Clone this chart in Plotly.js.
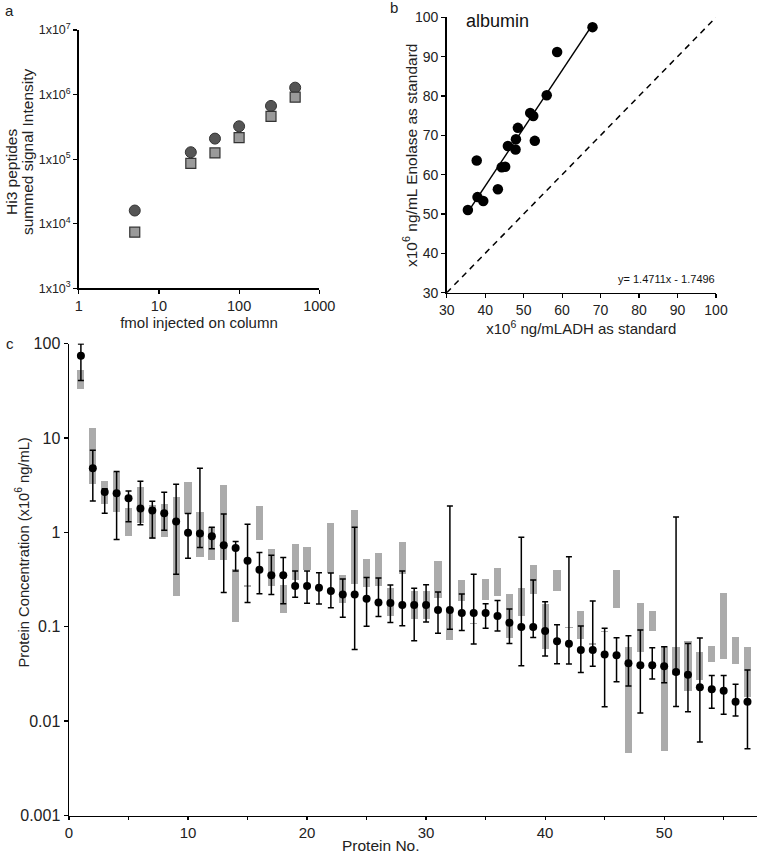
<!DOCTYPE html>
<html>
<head>
<meta charset="utf-8">
<script src="https://cdn.plot.ly/plotly-3.0.1.min.js"></script>
<style>body{margin:0;background:#fff}#chart{width:758px;height:855px}</style>
</head>
<body>
<div id="chart"></div>
<script>
// panel a: Hi3 signal vs amount injected
const fmol = [5, 25, 50, 100, 250, 500];
const hi3Circle = [1.6e4, 1.28e5, 2.08e5, 3.23e5, 6.67e5, 1.28e6];
const hi3Square = [7.4e3, 8.6e4, 1.25e5, 2.15e5, 4.6e5, 9.1e5];

// panel b: albumin, ADH vs enolase standard
const adhStd = [35.5, 38.0, 37.8, 39.5, 43.3, 44.3, 45.2, 45.9, 47.9, 48.0, 48.5, 51.7, 52.5, 52.9, 56.0, 58.7, 67.9];
const enoStd = [51.0, 54.3, 63.6, 53.3, 56.3, 61.9, 62.0, 67.3, 66.4, 69.0, 71.9, 75.7, 74.9, 68.6, 80.2, 91.2, 97.5];
const fitSlope = 1.4711;
const fitIntercept = -1.7496;

// panel c: 57 proteins
const proteinNo = Array.from({length: 57}, (_, i) => i + 1);
const conc = [74, 4.77, 2.68, 2.59, 2.29, 1.79, 1.70, 1.59, 1.30, 0.99,
  0.97, 0.91, 0.73, 0.68, 0.50, 0.40, 0.35, 0.35, 0.27, 0.27,
  0.259, 0.239, 0.22, 0.22, 0.198, 0.18, 0.178, 0.170, 0.170, 0.170,
  0.150, 0.150, 0.140, 0.140, 0.140, 0.130, 0.110, 0.099, 0.099, 0.090,
  0.070, 0.066, 0.0566, 0.0566, 0.0509, 0.0497, 0.0409, 0.039, 0.039, 0.038,
  0.0331, 0.031, 0.0229, 0.0218, 0.021, 0.016, 0.016];
const errHigh = [99, 7.4, 2.9, 4.4, 2.74, 3.47, 2.13, 2.66, 3.23, 1.58,
  4.77, 1.13, 1.56, 0.80, 1.22, 0.61, 0.57, 0.54, 0.39, 0.39,
  0.373, 0.37, 0.32, 1.13, 0.333, 0.328, 0.277, 0.39, 0.255, 0.279,
  0.233, 1.90, 0.222, 0.359, 0.175, 0.19, 0.154, 0.885, 0.313, 0.184,
  0.105, 0.552, 0.1017, 0.187, 0.096, 0.0763, 0.080, 0.092, 0.060, 0.0614,
  1.45, 0.0665, 0.0758, 0.0305, 0.0305, 0.0245, 0.0348];
const errLow = [40.5, 2.15, 1.59, 0.84, 1.29, 1.20, 0.87, 1.05, 0.36, 0.53,
  0.69, 0.67, 0.23, 0.39, 0.18, 0.224, 0.22, 0.175, 0.205, 0.177,
  0.174, 0.159, 0.126, 0.0575, 0.101, 0.128, 0.111, 0.1025, 0.071, 0.112,
  0.085, 0.0937, 0.0914, 0.0655, 0.096, 0.09, 0.0665, 0.0386, 0.077, 0.0489,
  0.0406, 0.0402, 0.0328, 0.038, 0.0142, 0.0261, 0.0235, 0.0122, 0.0279, 0.0255,
  0.0143, 0.01256, 0.006, 0.0137, 0.0118, 0.0113, 0.0051];
const grayHigh = [53, 12.8, 3.5, 4.4, 1.81, 3.03, 1.95, 1.98, 2.39, 3.42,
  1.64, 1.14, 3.2, 0.41, 0.275, 1.92, 0.67, 0.279, 0.76, 0.705,
  null, 1.26, 0.356, 1.74, 0.52, 0.60, 0.257, 0.79, 0.237, 0.237,
  0.493, 0.146, 0.313, 0.110, 0.323, 0.419, 0.222, 0.255, 0.447, 0.175,
  0.399, 0.1005, 0.148, 0.0665, 0.091, 0.395, 0.0604, 0.178, 0.148, 0.063,
  0.0608, 0.070, 0.0543, 0.062, 0.227, 0.078, 0.0614];
const grayLow = [33.3, 3.25, 1.98, 1.64, 0.92, 1.24, 0.85, 0.90, 0.21, 1.58,
  0.55, 0.51, 0.51, 0.112, 0.265, 0.82, 0.27, 0.14, 0.31, 0.40,
  null, 0.37, 0.18, 0.281, 0.261, 0.272, 0.13, 0.36, 0.12, 0.12,
  0.201, 0.0716, 0.189, 0.106, 0.193, 0.21, 0.075, 0.129, 0.224, 0.058,
  0.237, 0.0965, 0.0746, 0.0635, 0.087, 0.159, 0.00458, 0.0535, 0.089, 0.00481,
  0.031, 0.021, 0.0274, 0.0419, 0.046, 0.04, 0.0178];

const W = 758, H = 855;
const FONT = 'Liberation Sans, Arial, sans-serif';
const px = v => v / W;
const py = v => 1 - v / H;

const fitX = [Math.min(...adhStd), Math.max(...adhStd)];
const fitY = fitX.map(x => fitSlope * x + fitIntercept);

const traces = [
  { x: fmol, y: hi3Circle, xaxis: 'x', yaxis: 'y', type: 'scatter', mode: 'markers',
    marker: { symbol: 'circle', size: 11, color: '#555555', line: { color: '#333333', width: 1 } } },
  { x: fmol, y: hi3Square, xaxis: 'x', yaxis: 'y', type: 'scatter', mode: 'markers',
    marker: { symbol: 'square', size: 10, color: '#9a9a9a', line: { color: '#333333', width: 1.2 } } },

  { x: [30, 100], y: [30, 100], xaxis: 'x2', yaxis: 'y2', type: 'scatter', mode: 'lines',
    line: { color: '#000', width: 1.5, dash: '6px,5px' } },
  { x: fitX, y: fitY, xaxis: 'x2', yaxis: 'y2', type: 'scatter', mode: 'lines',
    line: { color: '#000', width: 1.5 } },
  { x: adhStd, y: enoStd, xaxis: 'x2', yaxis: 'y2', type: 'scatter', mode: 'markers',
    marker: { size: 10.5, color: '#000' } },

  { x: proteinNo, y: grayHigh.map((h, i) => h == null ? null : h - grayLow[i]), base: grayLow,
    xaxis: 'x3', yaxis: 'y3', type: 'bar', width: 0.6,
    marker: { color: '#ababab', line: { width: 0 } } },
  { x: proteinNo, y: conc, xaxis: 'x3', yaxis: 'y3', type: 'scatter', mode: 'markers',
    marker: { size: 8, color: '#000' },
    error_y: { type: 'data', symmetric: false,
      array: errHigh.map((h, i) => h - conc[i]),
      arrayminus: conc.map((c, i) => c - errLow[i]),
      color: '#000', thickness: 1.5, width: 3 } }
];

const axisBase = {
  showline: true, linecolor: '#000', linewidth: 1.5, showgrid: false, zeroline: false,
  ticks: 'outside', ticklen: 4, tickcolor: '#000', tickwidth: 1.2,
  tickfont: { family: FONT, size: 14, color: '#222' }
};
const sup = n => '1x10<sup>' + n + '</sup>';

// text placed in pixels of the page
function label(text, x, y, size, angle) {
  return { text: text, xref: 'paper', yref: 'paper', x: px(x), y: py(y),
    xanchor: 'center', yanchor: 'middle', textangle: angle || 0, showarrow: false,
    font: { family: FONT, size: size, color: '#222' } };
}

const layout = {
  width: W, height: H,
  margin: { l: 0, r: 0, t: 0, b: 0 },
  paper_bgcolor: '#fff', plot_bgcolor: 'rgba(0,0,0,0)',
  showlegend: false,
  font: { family: FONT, color: '#222' },
  bargap: 0,
  xaxis: Object.assign({}, axisBase, {
    type: 'log', range: [0, 3], domain: [px(78.7), px(319.3)], anchor: 'y',
    tickvals: [1, 10, 100, 1000], ticktext: ['1', '10', '100', '1000'],
    tickfont: { family: FONT, size: 14.5, color: '#222' },
    title: { text: 'fmol injected on column', font: { family: FONT, size: 15 }, standoff: 4 }
  }),
  yaxis: Object.assign({}, axisBase, {
    type: 'log', range: [3, 7], domain: [py(288.3), py(30)], anchor: 'x',
    tickvals: [1e3, 1e4, 1e5, 1e6, 1e7], ticktext: [3, 4, 5, 6, 7].map(sup),
    tickfont: { family: FONT, size: 12.5, color: '#222' }
  }),
  xaxis2: Object.assign({}, axisBase, {
    range: [30, 100], dtick: 10, domain: [px(446.7), px(716)], anchor: 'y2',
    title: { text: 'x10<sup>6</sup> ng/mLADH as standard', font: { family: FONT, size: 15 }, standoff: 0 }
  }),
  yaxis2: Object.assign({}, axisBase, {
    range: [30, 100], dtick: 10, domain: [py(292.7), py(17.3)], anchor: 'x2'
  }),
  xaxis3: Object.assign({}, axisBase, {
    range: [0, 57.8], domain: [px(69), px(757)], anchor: 'y3', ticklen: 3,
    tickvals: [0, 5, 10, 15, 20, 25, 30, 35, 40, 45, 50, 55],
    ticktext: ['0', '', '10', '', '20', '', '30', '', '40', '', '50', ''],
    tickfont: { family: FONT, size: 15, color: '#222' }
  }),
  yaxis3: Object.assign({}, axisBase, {
    type: 'log', range: [-3, 2], domain: [py(815.5), py(343.5)], anchor: 'x3',
    tickvals: [0.001, 0.01, 0.1, 1, 10, 100],
    ticktext: ['0.001', '0.01', '0.1', '1', '10', '100'],
    tickfont: { family: FONT, size: 16, color: '#222' }
  }),
  annotations: [
    label('a', 9, 10, 15),
    label('b', 394, 8, 15),
    label('c', 10, 343, 15),
    label('Hi3 peptides', 11, 172, 15.5, -90),
    label('summed signal Intensity', 27, 152, 15.5, -90),
    label('x10<sup>6</sup> ng/mL Enolase as standard', 410, 156, 15.5, -90),
    label('Protein Concentration (x10<sup>6</sup> ng/mL)', 22.5, 553, 14.7, -90),
    label('Protein No.', 381, 845, 15.5),
    { text: 'albumin', xref: 'x2', yref: 'y2', x: 43.3, y: 99.0, xanchor: 'center', yanchor: 'middle',
      showarrow: false, font: { family: FONT, size: 18, color: '#111' } },
    { text: 'y= 1.4711x - 1.7496', xref: 'x2', yref: 'y2', x: 87.2, y: 33.5, xanchor: 'center', yanchor: 'middle',
      showarrow: false, font: { family: FONT, size: 11, color: '#111' } }
  ]
};

Plotly.newPlot('chart', traces, layout, { staticPlot: true, displayModeBar: false });
</script>
</body>
</html>
